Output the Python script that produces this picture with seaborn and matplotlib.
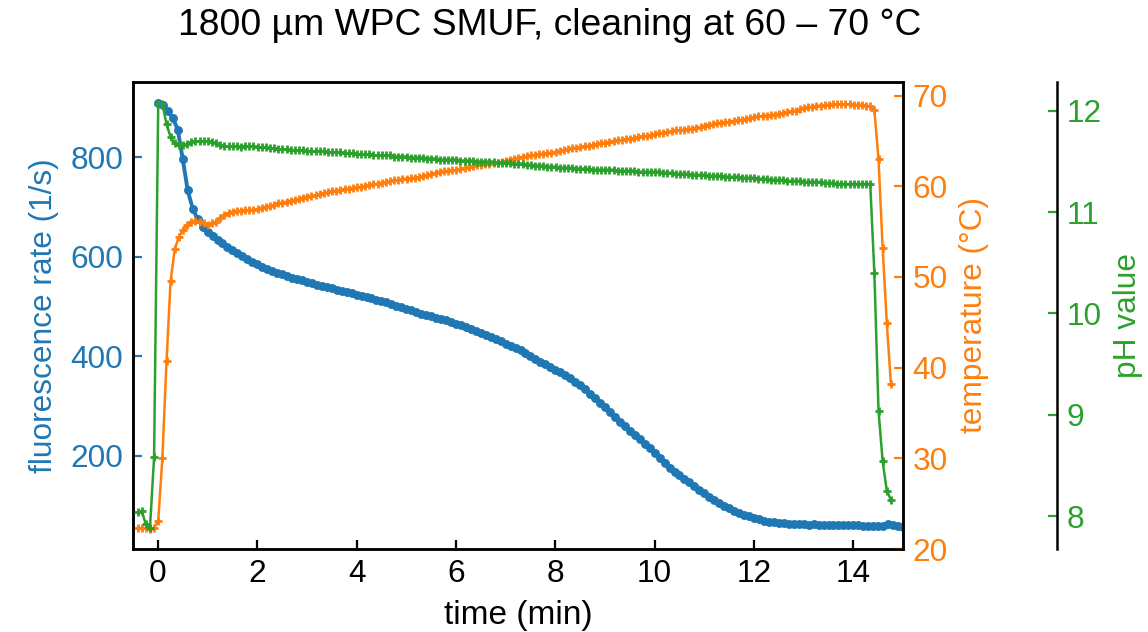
import matplotlib
matplotlib.use("Agg")
import matplotlib.pyplot as plt
import seaborn as sns
import numpy as np

##############################################################################
# Data
##############################################################################

title = "1800 µm WPC SMUF, cleaning at 60 – 70 °C"

# fluorescence sampled every 0.1 min from t = 0
fluor_t0, fluor_dt = 0.0, 0.1
fluorescence = [
    910, 905, 893, 880, 856, 797, 734, 697, 676, 661,
    651, 642, 634, 627, 620, 614, 608, 601, 596, 590,
    586, 580, 576, 572, 568, 565, 562, 558, 556, 553,
    550, 547, 544, 542, 539, 537, 534, 531, 530, 527,
    524, 522, 519, 517, 514, 512, 509, 506, 502, 499,
    496, 493, 489, 486, 483, 480, 477, 475, 472, 468,
    465, 462, 458, 455, 450, 446, 442, 438, 434, 430,
    425, 421, 417, 412, 406, 400, 394, 389, 384, 378,
    373, 368, 362, 356, 349, 342, 334, 325, 316, 306,
    297, 288, 278, 268, 259, 250, 241, 233, 224, 215,
    206, 196, 186, 176, 168, 160, 153, 146, 139, 131,
    124, 117, 111, 105, 99, 94, 89, 85, 81, 78,
    75, 72, 69, 67, 66, 65, 64, 63, 63, 62,
    62, 61, 62, 61, 61, 60, 61, 61, 60, 60,
    60, 60, 59, 59, 59, 58, 58, 62, 60, 58,
    57,
]

# temperature and pH probes logged every 5 s
probe_t0, probe_dt = -0.41, 5 / 60
temperature = [
    22.3, 22.3, 22.3, 22.2, 22.3, 23.1, 30.0, 40.7, 49.6, 53.1,
    54.4, 55.2, 55.7, 56.05, 56.2, 56.1, 55.9, 55.75, 55.9, 56.1,
    56.5, 56.85, 57.05, 57.2, 57.3, 57.3, 57.35, 57.4, 57.4, 57.5,
    57.65, 57.75, 57.85, 57.95, 58.1, 58.2, 58.3, 58.4, 58.5, 58.6,
    58.75, 58.85, 58.9, 59.0, 59.15, 59.25, 59.35, 59.45, 59.5, 59.6,
    59.7, 59.75, 59.8, 59.9, 59.95, 60.0, 60.1, 60.2, 60.3, 60.35,
    60.45, 60.55, 60.65, 60.7, 60.8, 60.85, 60.9, 60.95, 61.0, 61.1,
    61.2, 61.35, 61.5, 61.6, 61.65, 61.7, 61.75, 61.8, 61.85, 62.0,
    62.15, 62.25, 62.3, 62.35, 62.4, 62.45, 62.55, 62.6, 62.7, 62.8,
    62.95, 63.05, 63.15, 63.25, 63.3, 63.4, 63.45, 63.55, 63.6, 63.65,
    63.7, 63.8, 63.9, 64.0, 64.1, 64.2, 64.25, 64.3, 64.4, 64.45,
    64.55, 64.65, 64.75, 64.8, 64.9, 64.95, 65.05, 65.1, 65.2, 65.25,
    65.35, 65.4, 65.5, 65.55, 65.65, 65.75, 65.85, 65.9, 66.0, 66.05,
    66.15, 66.2, 66.25, 66.3, 66.35, 66.45, 66.5, 66.7, 66.8, 66.85,
    66.95, 67.0, 67.05, 67.1, 67.2, 67.3, 67.35, 67.45, 67.55, 67.65,
    67.7, 67.75, 67.8, 67.85, 67.9, 68.0, 68.05, 68.15, 68.25, 68.35,
    68.5, 68.6, 68.7, 68.75, 68.85, 68.9, 68.95, 69.0, 69.05, 69.05,
    69.05, 69.05, 69.05, 69.0, 69.0, 69.0, 68.9, 68.8, 68.4, 63.0,
    53.2, 44.9, 38.2,
]
ph_value = [
    8.04, 8.05, 7.92, 7.88, 8.58, 12.07, 12.07, 11.87, 11.74, 11.68,
    11.66, 11.66, 11.67, 11.69, 11.70, 11.70, 11.70, 11.70, 11.69, 11.68,
    11.66, 11.65, 11.65, 11.65, 11.65, 11.64, 11.65, 11.65, 11.65, 11.64,
    11.64, 11.64, 11.63, 11.63, 11.62, 11.62, 11.62, 11.61, 11.61, 11.61,
    11.61, 11.60, 11.60, 11.60, 11.60, 11.60, 11.59, 11.59, 11.59, 11.59,
    11.58, 11.58, 11.58, 11.57, 11.57, 11.57, 11.57, 11.56, 11.56, 11.56,
    11.56, 11.56, 11.55, 11.55, 11.55, 11.55, 11.54, 11.54, 11.54, 11.54,
    11.53, 11.53, 11.53, 11.52, 11.52, 11.52, 11.52, 11.52, 11.51, 11.51,
    11.51, 11.51, 11.50, 11.50, 11.50, 11.50, 11.50, 11.49, 11.49, 11.49,
    11.49, 11.48, 11.48, 11.48, 11.47, 11.47, 11.46, 11.46, 11.46, 11.45,
    11.45, 11.45, 11.44, 11.44, 11.44, 11.44, 11.43, 11.43, 11.43, 11.43,
    11.42, 11.42, 11.42, 11.42, 11.42, 11.42, 11.41, 11.41, 11.41, 11.41,
    11.41, 11.40, 11.40, 11.40, 11.40, 11.40, 11.40, 11.39, 11.39, 11.39,
    11.38, 11.38, 11.38, 11.38, 11.37, 11.37, 11.37, 11.37, 11.36, 11.36,
    11.36, 11.36, 11.35, 11.35, 11.35, 11.35, 11.34, 11.34, 11.34, 11.34,
    11.33, 11.33, 11.33, 11.32, 11.32, 11.32, 11.32, 11.31, 11.31, 11.31,
    11.31, 11.30, 11.30, 11.30, 11.30, 11.30, 11.29, 11.29, 11.29, 11.28,
    11.28, 11.28, 11.28, 11.28, 11.28, 11.28, 11.28, 11.28, 10.40, 9.04,
    8.54, 8.25, 8.16,
]

fluor_time = fluor_t0 + fluor_dt * np.arange(len(fluorescence))
probe_time = probe_t0 + probe_dt * np.arange(len(temperature))

##############################################################################
# Style
##############################################################################

sns.set_style("ticks", {
    "axes.edgecolor": "black",
    "xtick.color": "black",
    "ytick.color": "black",
    "text.color": "black",
    "axes.labelcolor": "black",
    "xtick.direction": "in",
    "ytick.direction": "in",
})
plt.rcParams["font.family"] = ["Liberation Sans", "DejaVu Sans"]
plt.rcParams["font.size"] = 11.4
plt.rcParams["axes.linewidth"] = 0.9
plt.rcParams["xtick.major.size"] = 3.2
plt.rcParams["ytick.major.size"] = 3.2

c_fluor = "tab:blue"
c_temp = "tab:orange"
c_ph = "tab:green"

##############################################################################
# Plot
##############################################################################

fig = plt.figure(figsize=(5.74, 3.16), dpi=200)
ax = fig.add_axes([0.1159, 0.1313, 0.6707, 0.739])

sns.lineplot(
    x=fluor_time, y=fluorescence, ax=ax, color=c_fluor,
    marker="o", markersize=2.6, markeredgecolor=c_fluor,
    markeredgewidth=0.6, linewidth=1.4,
)
ax.set_xlim(-0.5, 15)
ax.set_ylim(12, 952)
ax.set_xticks(np.arange(0, 15, 2))
ax.set_xlabel("time (min)", fontsize=12)
ax.set_ylabel("fluorescence rate (1/s)", color=c_fluor)
ax.tick_params(axis="y", colors=c_fluor)

# temperature axis
ax2 = ax.twinx()
sns.lineplot(
    x=probe_time, y=temperature, ax=ax2, color=c_temp,
    marker="+", markersize=3.0, markeredgecolor=c_temp,
    markeredgewidth=1.0, linewidth=0.9,
)
ax2.set_ylim(20, 71.5)
ax2.set_ylabel("temperature (°C)", color=c_temp)
ax2.tick_params(axis="y", colors=c_temp)

# pH axis, offset to the right
ax3 = ax.twinx()
for sp in ax3.spines.values():
    sp.set_visible(False)
ax3.spines["right"].set_visible(True)
ax3.spines["right"].set_position(("axes", 1.2))
sns.lineplot(
    x=probe_time, y=ph_value, ax=ax3, color=c_ph,
    marker="+", markersize=3.0, markeredgecolor=c_ph,
    markeredgewidth=1.0, linewidth=0.9,
)
ax3.set_ylim(7.674, 12.286)
ax3.set_ylabel("pH value", color=c_ph)
ax3.tick_params(axis="y", colors=c_ph)
ax.set_xlim(-0.5, 15)

fig.text(0.479, 0.96, title, ha="center", va="center", fontsize=13.4)

plt.savefig("out.png", dpi=200)
